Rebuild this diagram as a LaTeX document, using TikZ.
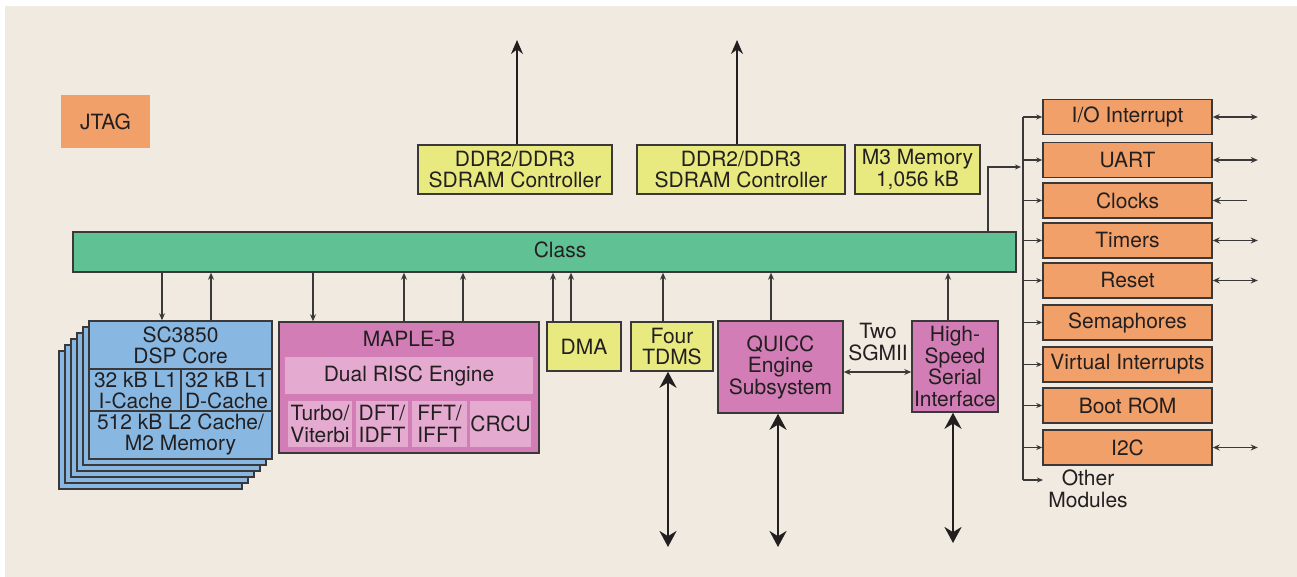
\documentclass[tikz,border=0pt]{standalone}
\usepackage{fontspec}
\setmainfont{TeX Gyre Heros}
\usetikzlibrary{arrows.meta}
\definecolor{bg}{HTML}{F1EAE1}
\definecolor{ink}{HTML}{231F20}
\definecolor{edge}{HTML}{3A3838}
\definecolor{orng}{HTML}{F0A068}
\definecolor{yel}{HTML}{E8EA80}
\definecolor{grn}{HTML}{60C294}
\definecolor{blu}{HTML}{88B8E2}
\definecolor{mag}{HTML}{D27DB5}
\definecolor{lpink}{HTML}{E4AAD0}
\begin{document}
\begin{tikzpicture}[x=1pt,y=-1pt,
  every node/.style={font=\fontsize{21}{21.5}\selectfont, text=ink, inner sep=0pt, align=center},
  blk/.style={draw=edge, line width=1.5pt, rectangle},
  ybox/.style={blk, fill=yel},
  obox/.style={blk, fill=orng, minimum width=169pt, minimum height=35pt},
  mbox/.style={blk, fill=mag},
  cell/.style={fill=lpink, rectangle},
  arr/.style={draw=edge, line width=1.3pt, -{Stealth[length=7pt,width=6pt]}},
  darr/.style={draw=edge, line width=1.3pt, {Stealth[length=7pt,width=6pt]}-{Stealth[length=7pt,width=6pt]}},
  bigarr/.style={draw=ink, line width=2.6pt, {Stealth[length=16pt,width=17pt]}-{Stealth[length=16pt,width=17pt]}},
  plain/.style={draw=edge, line width=1.3pt}
]
\useasboundingbox (0,0) rectangle (1297,577);
\fill[bg] (5,6) rectangle (1297,577);

% JTAG
\node[fill=orng, minimum width=89pt, minimum height=53pt] (jtag) at (105.5,121.5) {JTAG};

% top controllers
\node[ybox, minimum width=194pt, minimum height=49pt] (ddrA) at (515,169.5) {DDR2/DDR3\\SDRAM Controller};
\node[ybox, minimum width=208pt, minimum height=49pt] (ddrB) at (741,169.5) {DDR2/DDR3\\SDRAM Controller};
\node[ybox, minimum width=125pt, minimum height=49pt] (m3) at (917.5,169.5) {M3 Memory\\1,056 kB};
\coordinate (ddrAout) at (517,40);
\coordinate (ddrBout) at (737,40);
\draw[draw=ink, line width=1.3pt, -{Stealth[length=14pt,width=12pt]}] (ddrAout |- ddrA.north) -- (ddrAout);
\draw[draw=ink, line width=1.3pt, -{Stealth[length=14pt,width=12pt]}] (ddrBout |- ddrB.north) -- (ddrBout);

% Class bar
\node[blk, fill=grn, minimum width=943pt, minimum height=40pt] (class) at (544.5,252) {};
\node (classlbl) at (560,250) {Class};

% SC3850 stack
\foreach \k in {5,4,3,2,1}{
  \filldraw[fill=blu, draw=edge, line width=1.6pt] (89-6*\k,321+6*\k) rectangle (272-6*\k,459+6*\k);
}
\node[blk, fill=blu, minimum width=183pt, minimum height=138pt] (sc) at (180.5,390) {};
\draw[plain] (sc.west |- 0,369) -- (sc.east |- 0,369);
\draw[plain] (sc.west |- 0,411) -- (sc.east |- 0,411);
\draw[plain] (181,369) -- (181,411);
\node (sct) at (180.5,345.5) {SC3850\\DSP Core};
\node (scl) at (135.5,390.5) {32 kB L1\\I-Cache};
\node (scr) at (226.5,390.5) {32 kB L1\\D-Cache};
\node (scb) at (180.5,434.5) {512 kB L2 Cache/\\M2 Memory};

% MAPLE-B
\node[mbox, minimum width=260pt, minimum height=131pt] (maple) at (409,387.5) {};
\node (maplet) at (409,339) {MAPLE-B};
\node[cell, minimum width=248pt, minimum height=37pt] (dual) at (409,375.5) {Dual RISC Engine};
\node[cell, minimum width=64pt, minimum height=46pt] (turbo) at (320,424) {Turbo/\\Viterbi};
\node[cell, minimum width=52pt, minimum height=46pt] (dft) at (382,424) {DFT/\\IDFT};
\node[cell, minimum width=55pt, minimum height=46pt] (fft) at (439.5,424) {FFT/\\IFFT};
\node[cell, minimum width=61pt, minimum height=46pt] (crcu) at (500.5,424) {CRCU};

% DMA, TDMS, QUICC, HSSI
\node[ybox, minimum width=74pt, minimum height=49pt] (dma) at (584,346.5) {DMA};
\node[ybox, minimum width=82pt, minimum height=49pt] (tdms) at (672,346.5) {Four\\TDMS};
\node[mbox, minimum width=125pt, minimum height=92pt] (quicc) at (780.5,367) {QUICC\\Engine\\Subsystem};
\node[mbox, minimum width=86pt, minimum height=91pt] (hssi) at (955,366.5) {High-\\Speed\\Serial\\Interface};
\node (sgmii) at (878,342) {Two\\SGMII};

% arrows between class bar and lower blocks
\draw[arr] (162,0 |- class.south) -- (162,0 |- sc.north);
\draw[arr] (211,0 |- sc.north) -- (211,0 |- class.south);
\draw[arr] (313,0 |- class.south) -- (313,0 |- maple.north);
\draw[arr] (404,0 |- maple.north) -- (404,0 |- class.south);
\draw[arr] (463,0 |- maple.north) -- (463,0 |- class.south);
\draw[arr] (553,0 |- dma.north) -- (553,0 |- class.south);
\draw[arr] (571,0 |- dma.north) -- (571,0 |- class.south);
\draw[arr] (663,0 |- tdms.north) -- (663,0 |- class.south);
\draw[arr] (771,0 |- quicc.north) -- (771,0 |- class.south);
\draw[arr] (948,0 |- hssi.north) -- (948,0 |- class.south);

% big external arrows
\coordinate (tdmsout) at (668,547);
\coordinate (quiccout) at (778,547);
\coordinate (hssiout) at (953,543);
\draw[bigarr] (tdmsout |- tdms.south) -- (tdmsout);
\draw[bigarr] (quiccout |- quicc.south) -- (quiccout);
\draw[bigarr] (hssiout |- hssi.south) -- (hssiout);
\draw[darr] (quicc.east |- 0,372) -- (hssi.west |- 0,372);

% right-hand peripheral column
\node[obox] (io) at (1127.5,117) {I/O Interrupt};
\node[obox] (uart) at (1127.5,160) {UART};
\node[obox] (clk) at (1127.5,200.5) {Clocks};
\node[obox] (tmr) at (1127.5,240.5) {Timers};
\node[obox] (rst) at (1127.5,280.5) {Reset};
\node[obox] (sem) at (1127.5,322.5) {Semaphores};
\node[obox] (vint) at (1127.5,364.5) {Virtual Interrupts};
\node[obox] (boot) at (1127.5,405.5) {Boot ROM};
\node[obox] (iic) at (1127.5,447.5) {I2C};
\node (other) at (1088,489) {Other\\Modules};

\coordinate (busTop) at (1023,117);
\coordinate (busBot) at (1023,480);
\coordinate (busIn) at (1021,167);
\draw[plain] (busTop) -- (busBot);
\draw[draw=edge, line width=1.3pt, -{Stealth[length=6pt,width=5pt]}] (988,0 |- class.north) |- (busIn);
\foreach \n in {io,uart,clk,tmr,rst,sem,vint,boot,iic}{
  \draw[draw=edge, line width=1.3pt, -{Stealth[length=6pt,width=5pt]}] (busTop |- \n.west) -- (\n.west);
}
\draw[draw=edge, line width=1.3pt, -{Stealth[length=6pt,width=5pt]}] (busBot) -- (1043,480);

% external arrows on the right
\foreach \n in {io,uart,tmr,rst,iic}{
  \draw[darr] (\n.east) -- ++(45,0);
}
\coordinate (clkin) at (1247,200.5);
\draw[draw=edge, line width=1.5pt, -{Stealth[length=8pt,width=7pt]}] (clkin) -- (clk.east);
\end{tikzpicture}
\end{document}
